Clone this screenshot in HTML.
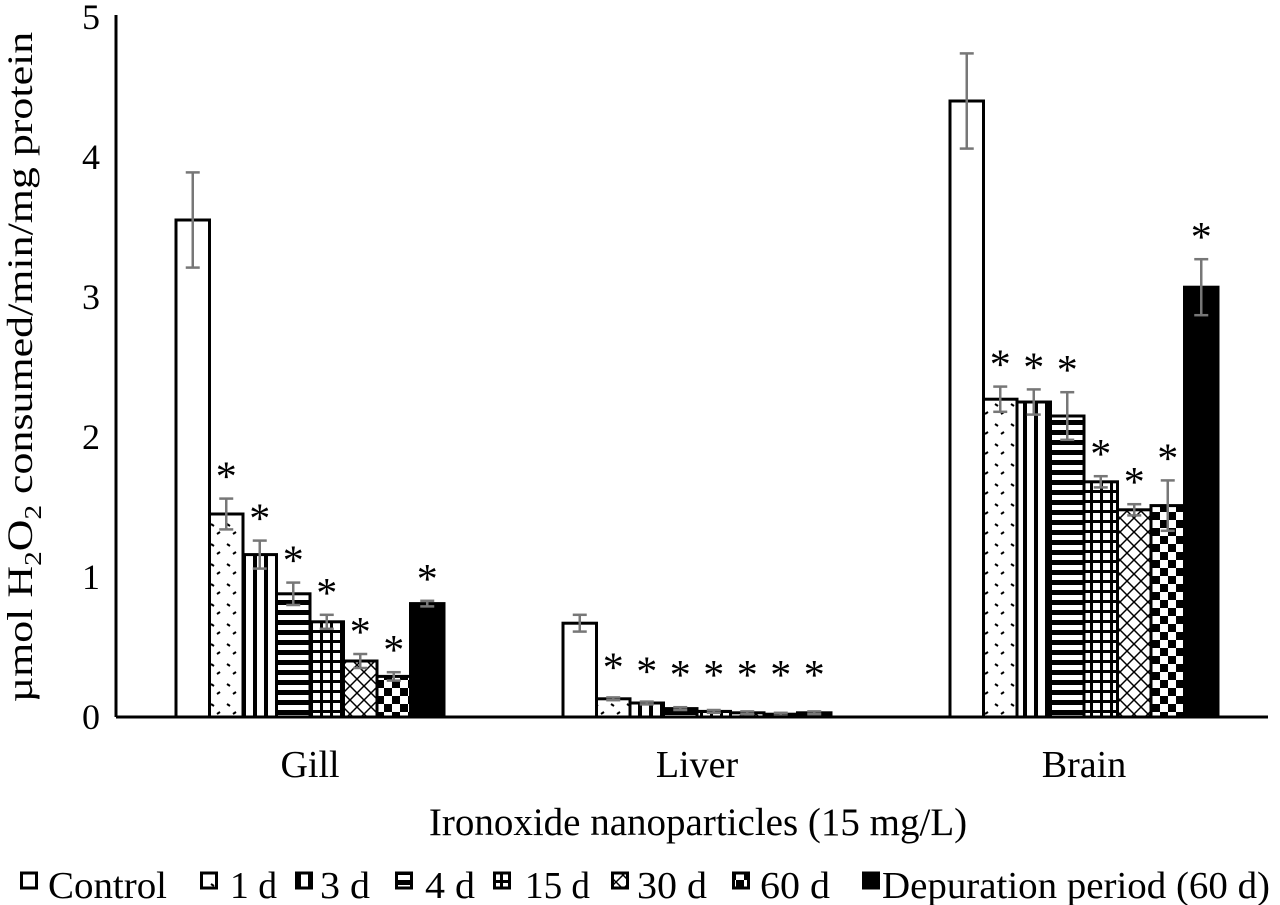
<!DOCTYPE html>
<html><head><meta charset="utf-8"><style>
body{margin:0;background:#fff}
svg{display:block;font-family:"Liberation Serif",serif}
</style></head><body>
<svg id="chart" width="1280" height="905" viewBox="0 0 1280 905">
<defs>
<pattern id="p0" width="10" height="10" patternUnits="userSpaceOnUse"><rect width="10" height="10" fill="#fff"/></pattern>
<pattern id="p1" width="16" height="20" patternUnits="userSpaceOnUse"><rect width="16" height="20" fill="#fff"/><path d="M3 4l3 2M12 12l-3 2" stroke="#000" stroke-width="2"/></pattern>
<pattern id="p2" width="11" height="10" patternUnits="userSpaceOnUse"><rect width="11" height="10" fill="#fff"/><rect x="0" width="4" height="10" fill="#000"/></pattern>
<pattern id="p3" width="10" height="10" patternUnits="userSpaceOnUse"><rect width="10" height="10" fill="#fff"/><rect y="0" width="10" height="5" fill="#000"/></pattern>
<pattern id="p4" width="10" height="10" patternUnits="userSpaceOnUse"><rect width="10" height="10" fill="#fff"/><rect width="10" height="3" fill="#000"/><rect width="3" height="10" fill="#000"/></pattern>
<pattern id="p5" width="14" height="14" patternUnits="userSpaceOnUse"><rect width="14" height="14" fill="#fff"/><path d="M0 14L14 0M0 0L14 14" stroke="#000" stroke-width="1.5"/></pattern>
<pattern id="p6" width="16" height="16" patternUnits="userSpaceOnUse"><rect width="16" height="16" fill="#fff"/><rect width="8" height="8" fill="#000"/><rect x="8" y="8" width="8" height="8" fill="#000"/></pattern>
<pattern id="p7" width="10" height="10" patternUnits="userSpaceOnUse"><rect width="10" height="10" fill="#000"/></pattern>
</defs>
<g id="bars"></g>
<g id="axes"></g>
</svg>
<script>
const categories=["Gill","Liver","Brain"];
const seriesNames=["Control","1 d","3 d","4 d","15 d","30 d","60 d","Depuration period (60 d)"];
const gillValues=[3.55,1.45,1.16,0.88,0.68,0.40,0.29,0.81];
const liverValues=[0.67,0.13,0.10,0.06,0.04,0.03,0.02,0.03];
const brainValues=[4.40,2.27,2.25,2.15,1.68,1.48,1.51,3.07];
const gillErrors=[0.34,0.11,0.10,0.08,0.05,0.05,0.03,0.02];
const liverErrors=[0.06,0.01,0.01,0.01,0.01,0.01,0.01,0.01];
const brainErrors=[0.34,0.09,0.09,0.17,0.04,0.04,0.18,0.20];
const gillStars=[0,1,1,1,1,1,1,1];
const liverStars=[0,1,1,1,1,1,1,1];
const brainStars=[0,1,1,1,1,1,1,1];
const yTicks=[0,1,2,3,4,5];
const values=[gillValues,liverValues,brainValues];
const errors=[gillErrors,liverErrors,brainErrors];
const stars=[gillStars,liverStars,brainStars];

const NS="http://www.w3.org/2000/svg";
const x0=116,base=717,pxPer=140,catW=387,firstC=310,bw=33.5;
const yS=v=>base-v*pxPer;
const xC=i=>firstC+i*catW;
function mk(tag,attrs,parent){const e=document.createElementNS(NS,tag);for(const k in attrs)e.setAttribute(k,attrs[k]);parent.appendChild(e);return e;}
const bars=document.getElementById('bars'),axes=document.getElementById('axes');
values.forEach((vals,c)=>{
  vals.forEach((v,s)=>{
    const x=xC(c)-4*bw+s*bw;
    const r=mk('rect',{x:x,y:yS(v),width:bw,height:base-yS(v),fill:'url(#p'+s+')',stroke:'#000','stroke-width':3},bars);
    
    
    const e=errors[c][s],cx=x+bw/2;
    const g=mk('g',{stroke:'#777','stroke-width':2.5},bars);
    
    
    mk('line',{x1:cx,x2:cx,y1:yS(v+e),y2:yS(Math.max(0,v-e))},g);
    mk('line',{x1:cx-7,x2:cx+7,y1:yS(v+e),y2:yS(v+e)},g);
    mk('line',{x1:cx-7,x2:cx+7,y1:yS(Math.max(0,v-e)),y2:yS(Math.max(0,v-e))},g);
    if(stars[c][s]){
      let by=yS(v+e)-22;
      if(c===1) by=Math.min(yS(v+e)-30,base-42);
      const t=mk('text',{x:cx,y:by+14,'font-size':42,'text-anchor':'middle'},bars);
      t.textContent='*';
      
      
    }
  });
});
let l=mk('line',{x1:x0,x2:x0,y1:15,y2:base,stroke:'#000','stroke-width':3},axes);

l=mk('line',{x1:x0,x2:1268,y1:base,y2:base,stroke:'#000','stroke-width':3},axes);

yTicks.forEach(v=>{
  const t=mk('text',{x:100,y:yS(v)+12,'font-size':36,'text-anchor':'end'},axes);
  t.textContent=v;
  
  
});
categories.forEach((c,i)=>{
  const t=mk('text',{x:xC(i),y:777,'font-size':38,'text-anchor':'middle'},axes);
  t.textContent=c;
  
  
});
let t=mk('text',{x:698,y:835,'font-size':39,'text-anchor':'middle'},axes);
t.textContent='Ironoxide nanoparticles (15 mg/L)';

t=mk('text',{x:0,y:0,'font-size':36,'text-anchor':'middle',transform:'translate(32,367) rotate(-90) scale(1.22,1)'},axes);
t.innerHTML='µmol H<tspan font-size="24" dy="9">2</tspan><tspan dy="-9">O</tspan><tspan font-size="24" dy="9">2</tspan><tspan dy="-9"> consumed/min/mg protein</tspan>';

const legSq=[20,200,295,395,493,611,732,862];
const legTx=[48,230,320,425,525,637,760,882];
const legW=[119,47,50,50,65,70,70,388];
seriesNames.forEach((n,s)=>{
  const g=mk('g',{},axes);
  
  
  mk('rect',{x:legSq[s]+1.5,y:873,width:15,height:15,fill:'url(#p'+s+')',stroke:'#000','stroke-width':3},g);
  const tx=mk('text',{x:legTx[s],y:898,'font-size':38,textLength:legW[s],lengthAdjust:'spacingAndGlyphs'},g);
  tx.textContent=n;
});
</script>
</body></html>
